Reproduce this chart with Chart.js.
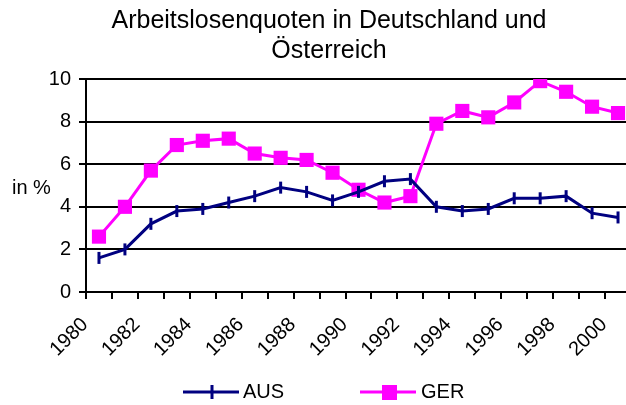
<!DOCTYPE html>
<html lang="de">
<head>
    <meta charset="UTF-8">
    <title>Arbeitslosenquoten</title>
    <script src="https://cdn.jsdelivr.net/npm/chart.js@4.4.1/dist/chart.umd.min.js"></script>
    <style>
        html, body { margin: 0; padding: 0; background: #fff; overflow: hidden; }
        #wrap { width: 641px; height: 405px; }
    </style>
</head>
<body>
    <div id="wrap"><canvas id="chart" width="641" height="405"></canvas></div>

    <script>
        const years = ['1980', '1981', '1982', '1983', '1984', '1985', '1986', '1987', '1988', '1989', '1990',
                       '1991', '1992', '1993', '1994', '1995', '1996', '1997', '1998', '1999', '2000'];
        const aus = [1.6, 2.0, 3.2, 3.8, 3.9, 4.2, 4.5, 4.9, 4.7, 4.3, 4.7, 5.2, 5.3, 4.0, 3.8, 3.9, 4.4, 4.4, 4.5, 3.7, 3.5];
        const ger = [2.6, 4.0, 5.7, 6.9, 7.1, 7.2, 6.5, 6.3, 6.2, 5.6, 4.8, 4.2, 4.5, 7.9, 8.5, 8.2, 8.9, 9.9, 9.4, 8.7, 8.4];
        const titleLines = ['Arbeitslosenquoten in Deutschland und', 'Österreich'];
        const yLabel = 'in %';

        const FONT = '"Liberation Sans", Arial, sans-serif';
        const NAVY = '#000080';
        const PINK = '#ff00ff';

        // y label (horizontal) and the legend with line + marker
        const extras = {
            id: 'extras',
            afterDraw(chart) {
                const ctx = chart.ctx;
                ctx.save();
                ctx.fillStyle = '#000';
                ctx.font = '20px ' + FONT;
                ctx.textBaseline = 'middle';
                ctx.textAlign = 'left';
                ctx.fillText(yLabel, 12, 188);

                const ly = 392;
                // AUS
                ctx.strokeStyle = NAVY;
                ctx.lineWidth = 3;
                ctx.beginPath();
                ctx.moveTo(183, ly); ctx.lineTo(239, ly);
                ctx.moveTo(212, ly - 7); ctx.lineTo(212, ly + 7);
                ctx.stroke();
                ctx.fillText(chart.data.datasets[0].label, 243, ly);
                // GER
                ctx.strokeStyle = PINK;
                ctx.fillStyle = PINK;
                ctx.beginPath();
                ctx.moveTo(360, ly); ctx.lineTo(416, ly);
                ctx.stroke();
                ctx.fillRect(382, ly - 7, 15, 15);
                ctx.fillStyle = '#000';
                ctx.fillText(chart.data.datasets[1].label, 421, ly);
                ctx.restore();
            }
        };

        const ctx = document.getElementById('chart').getContext('2d');
        new Chart(ctx, {
            type: 'line',
            data: {
                labels: years,
                datasets: [{
                    label: 'AUS',
                    data: aus,
                    borderColor: NAVY,
                    backgroundColor: NAVY,
                    borderWidth: 3,
                    pointStyle: 'line',
                    rotation: 90,
                    pointRadius: 6,
                    pointBorderWidth: 3,
                    tension: 0
                }, {
                    label: 'GER',
                    data: ger,
                    borderColor: PINK,
                    backgroundColor: PINK,
                    borderWidth: 3,
                    pointStyle: 'rect',
                    pointRadius: 10,
                    pointBorderWidth: 0,
                    tension: 0
                }]
            },
            options: {
                responsive: false,
                animation: false,
                layout: { padding: { left: 17, right: 0, top: 0, bottom: 33 } },
                plugins: {
                    legend: { display: false },
                    tooltip: { enabled: false },
                    title: {
                        display: true,
                        text: titleLines,
                        color: '#000',
                        font: { family: FONT, size: 25, weight: 'normal', lineHeight: 1.2 },
                        padding: { top: 6, bottom: 13 }
                    }
                },
                scales: {
                    x: {
                        offset: true,
                        grid: {
                            offset: true,
                            drawOnChartArea: false,
                            color: '#000',
                            lineWidth: 2,
                            tickLength: 7
                        },
                        border: { color: '#000', width: 2 },
                        ticks: {
                            autoSkip: false,
                            maxRotation: 45,
                            minRotation: 45,
                            padding: 14,
                            labelOffset: -14,
                            color: '#000',
                            font: { family: FONT, size: 20 },
                            callback: (v, i) => (i % 2 === 0 ? years[i] : '')
                        },
                        afterFit: s => {
                            s.height = 80;
                            s.paddingLeft = 0;
                            s.paddingRight = 0;
                        }
                    },
                    y: {
                        min: 0,
                        max: 10,
                        grid: { color: '#000', lineWidth: 2, tickLength: 7 },
                        border: { color: '#000', width: 2 },
                        ticks: {
                            stepSize: 2,
                            color: '#000',
                            padding: 8,
                            font: { family: FONT, size: 20 }
                        },
                        afterFit: s => { s.width = 69; }
                    }
                }
            },
            plugins: [extras]
        });
    </script>
</body>
</html>
